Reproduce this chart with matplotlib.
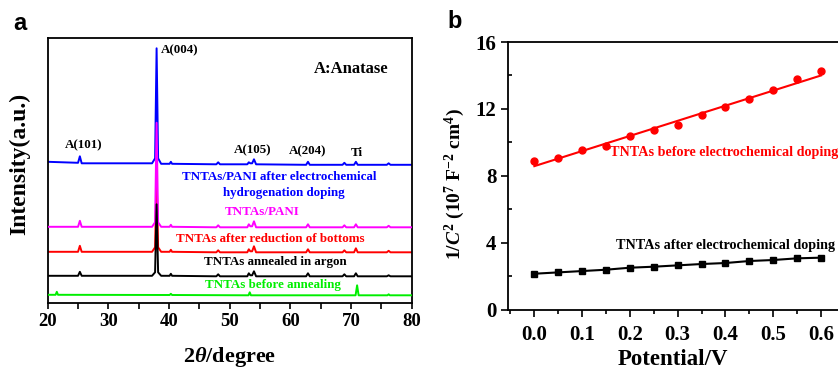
import matplotlib
matplotlib.use('Agg')
import matplotlib.pyplot as plt
from matplotlib.ticker import MultipleLocator, NullLocator

plt.rcParams['font.family'] = 'Liberation Serif'
plt.rcParams['font.weight'] = 'bold'
plt.rcParams['axes.labelweight'] = 'bold'
plt.rcParams['mathtext.fontset'] = 'custom'
plt.rcParams['mathtext.rm'] = 'Liberation Serif:bold'
plt.rcParams['mathtext.it'] = 'Liberation Serif:italic:bold'
plt.rcParams['mathtext.bf'] = 'Liberation Serif:bold'

# ---- panel a: XRD patterns (vertices, arbitrary units) ----
tt = [20, 25.0, 25.3, 25.6, 37.2, 37.7, 37.95, 38.2, 38.7, 40.1, 40.3, 40.5,
      47.8, 48.1, 48.4, 52.9, 53.15, 53.4, 53.7, 54.0, 54.35, 62.6, 62.9, 63.2,
      68.6, 68.9, 69.2, 70.5, 70.8, 71.1, 75.9, 76.2, 76.5, 80]
blue_i = [141.5, 140.5, 147, 140, 140, 145, 255, 145, 139.5, 139.5, 141.5, 139.5,
          139, 141, 139, 139, 141, 140, 140, 144, 139, 138.5, 141.5, 138.5,
          138.5, 140.5, 138.5, 138.5, 141.5, 138.5, 138.5, 140, 138.5, 138.5]
magenta_i = [76.5, 76.5, 82.5, 76.5, 76.5, 81, 180.5, 81, 76.5, 76.5, 78.5, 76.5,
             76, 78, 76, 76, 79, 77, 77, 82, 76, 76, 79, 76,
             76, 78, 76, 76, 79, 76, 76, 77.5, 76, 76]
red_i = [51.5, 51.5, 57.5, 51.5, 51.5, 56, 130, 56, 51.5, 51.5, 53.5, 51.5,
         51, 53, 51, 51, 54, 52, 52, 57, 51, 51, 54, 51,
         51, 53, 51, 51, 55, 51, 51, 52.5, 51, 51]
black_i = [27.5, 27.5, 31.5, 27.5, 27.5, 31, 99, 31, 27.5, 27.5, 29.5, 27.5,
           27, 29, 27, 27, 30, 28, 28, 32, 27, 27, 30, 27,
           27, 29, 27, 27, 30, 27, 27, 28, 27, 27]
tt_green = [20, 21.3, 21.5, 21.7, 40.1, 40.3, 40.5, 53.1, 53.3, 53.5,
            70.75, 71.0, 71.25, 76.0, 76.2, 76.4, 80]
green_i = [8.5, 8.5, 11.5, 8.5, 8.3, 9.5, 8.3, 8, 11, 8,
           8, 18, 8, 8, 9, 8, 8]

# ---- panel b: Mott-Schottky ----
potential = [0.0, 0.05, 0.10, 0.15, 0.20, 0.25, 0.30, 0.35, 0.40, 0.45, 0.50, 0.55, 0.60]
before_doping = [8.86, 9.06, 9.55, 9.79, 10.37, 10.73, 11.05, 11.66, 12.12, 12.58, 13.12, 13.77, 14.27]
after_doping = [2.15, 2.23, 2.31, 2.39, 2.51, 2.57, 2.65, 2.73, 2.79, 2.91, 2.97, 3.07, 3.11]
fit_v = [0.0, 0.6]
fit_before = [8.58, 14.0]

W, H = 838, 369
fig = plt.figure(figsize=(W / 100, H / 100), dpi=100)

def box(l, r, t, b):
    return [l / W, 1 - b / H, (r - l) / W, (b - t) / H]

# panel a
ax = fig.add_axes(box(47.7, 411.7, 37.7, 303.3))
ax.plot(tt, blue_i, color='#0000ff', lw=1.4, zorder=1)
ax.plot(tt, red_i, color='#ff0000', lw=1.4, zorder=2)
ax.plot(tt, magenta_i, color='#ff00ff', lw=1.4, zorder=3)
ax.plot(tt, black_i, color='black', lw=1.4, zorder=4)
ax.plot(tt_green, green_i, color='#00ee00', lw=1.4, zorder=5)
ax.set_xlim(20, 80)
ax.set_ylim(0, 265.6)
ax.xaxis.set_major_locator(MultipleLocator(10))
ax.xaxis.set_minor_locator(MultipleLocator(5))
ax.yaxis.set_major_locator(NullLocator())
ax.tick_params(axis='x', which='both', direction='out', length=4, width=1.2,
               labelsize=13.5, pad=3)
for s in ax.spines.values():
    s.set_linewidth(1.3)
ax.set_xlabel(r'2$\mathit{\theta}$/degree', fontsize=16, labelpad=11)
ax.set_ylabel('Intensity(a.u.)', fontsize=17)
ax.yaxis.set_label_coords(-0.047, 0.524)

tk = dict(fontsize=9.4, fontweight='bold', ha='center', va='center')
ax.text(26.0, 158.3, 'A(101)', color='black', **tk)
ax.text(38.7, 253.3, 'A(004)', color='black', fontsize=9.4, fontweight='bold', ha='left', va='center')
ax.text(76.2, 234, 'A:Anatase', color='black', fontsize=12, fontweight='bold', ha='right', va='center')
ax.text(53.8, 153.3, 'A(105)', color='black', **tk)
ax.text(62.8, 151.6, 'A(204)', color='black', **tk)
ax.text(70.9, 150, 'Ti', color='black', **tk)
ax.text(58.2, 126.6, 'TNTAs/PANI after electrochemical', color='#0000ff', **tk)
ax.text(59.0, 110, 'hydrogenation doping', color='#0000ff', **tk)
ax.text(55.3, 91.6, 'TNTAs/PANI', color='#ff00ff', **tk)
ax.text(56.7, 64, 'TNTAs after reduction of bottoms', color='#ff0000', **tk)
ax.text(57.6, 41, 'TNTAs annealed in argon', color='black', **tk)
ax.text(57.2, 18.3, 'TNTAs before annealing', color='#00ee00', **tk)

# panel b
bx = fig.add_axes(box(508.3, 838, 42, 309.7))
bx.plot(potential, before_doping, 'o', color='#ff0000', ms=5, zorder=3, clip_on=False)
bx.plot(fit_v, fit_before, '-', color='#ff0000', lw=1.5, zorder=2)
bx.plot(potential, after_doping, 's-', color='black', ms=4.5, lw=1.5, zorder=3)
bx.set_xlim(-0.0545, 0.6355)
bx.set_ylim(0, 16)
bx.xaxis.set_minor_locator(MultipleLocator(0.05))
bx.yaxis.set_major_locator(MultipleLocator(4))
bx.yaxis.set_minor_locator(MultipleLocator(2))
bx.set_xticks([0, 0.1, 0.2, 0.3, 0.4, 0.5, 0.6])
bx.set_xticklabels(['0.0', '0.1', '0.2', '0.3', '0.4', '0.5', '0.6'])
bx.tick_params(axis='both', which='major', direction='out', length=5, width=1.2, labelsize=15)
bx.tick_params(axis='x', which='minor', direction='out', length=3, width=1.2)
bx.tick_params(axis='y', which='minor', direction='in', length=3, width=1.2)
bx.tick_params(axis='x', which='major', pad=6)
bx.spines['right'].set_visible(False)
for s in bx.spines.values():
    s.set_linewidth(1.3)
bx.set_xlabel('Potential/V', fontsize=16.5, labelpad=3)
bx.set_ylabel(r'1/$\mathit{C}^{2}$ (10$^{7}$ F$^{-2}$ cm$^{4}$)', fontsize=14)
bx.yaxis.set_label_coords(-0.125, 0.471)
bx.text(0.158, 9.37, 'TNTAs before electrochemical doping', color='#ff0000',
        fontsize=10.2, fontweight='bold', ha='left', va='center')
bx.text(0.17, 3.85, 'TNTAs after electrochemical doping', color='black',
        fontsize=10.2, fontweight='bold', ha='left', va='center')

fig.text(20 / W, 1 - 23 / H, 'a', fontsize=17, fontweight='bold', family='Liberation Sans',
         ha='center', va='center')
fig.text(455 / W, 1 - 22 / H, 'b', fontsize=17, fontweight='bold', family='Liberation Sans',
         ha='center', va='center')

fig.savefig('out.png', dpi=100)
